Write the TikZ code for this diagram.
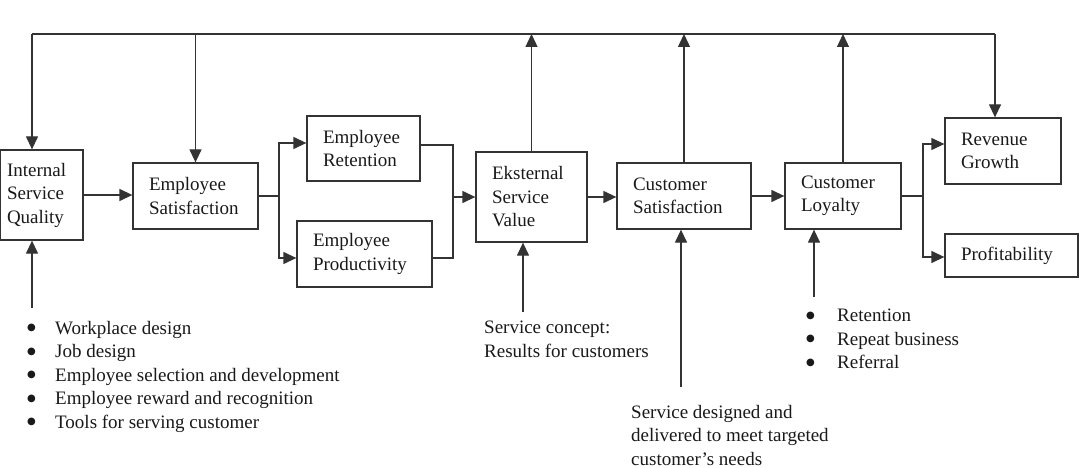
\documentclass[tikz,border=0pt]{standalone}
\usepackage{fontspec}
\setmainfont{Liberation Serif}
\newfontfamily\dotfont{DejaVu Sans}
\usetikzlibrary{arrows.meta}

\newcommand{\bigdot}{\raisebox{3.5pt}{\dotfont\fontsize{10}{10}\selectfont ●}}

\begin{document}
\begin{tikzpicture}[x=1pt,y=-1pt,font=\fontsize{19}{23.5}\selectfont]
        % Styles
        \tikzstyle{block}=[draw=black!80,line width=1.3pt,text=black!90,inner xsep=16pt,inner ysep=0pt,align=left]
        \tikzstyle{link}=[draw=black!80,line width=1.3pt]
        \tikzstyle{arrow}=[link,-{Triangle[length=13pt,width=12pt]}]
        \tikzstyle{information text}=[text=black!90,inner sep=0pt,align=left,anchor=north west]
        \useasboundingbox (0,0) rectangle (1080,468);
        %The graphic
        %boxes
        \node[block,inner xsep=7pt,text width=69pt,minimum height=90pt] (isq) at (41.5,195) {Internal\\Service\\Quality};
        \node[block,text width=93pt,minimum height=66pt] (es) at (195.5,196) {Employee\\Satisfaction};
        \node[block,text width=81pt,minimum height=65pt] (er) at (363.5,148.5) {Employee\\Retention};
        \node[block,text width=103pt,minimum height=66pt] (ep) at (364.5,254) {Employee\\Productivity};
        \node[block,text width=79pt,minimum height=90pt] (esv) at (531.5,197) {Eksternal\\Service\\Value};
        \node[block,text width=102pt,minimum height=66pt] (cs) at (684,196) {Customer\\Satisfaction};
        \node[block,text width=84pt,minimum height=66pt] (cl) at (843,196) {Customer\\Loyalty};
        \node[block,text width=84pt,minimum height=66pt] (rg) at (1003,151) {Revenue\\Growth};
        \node[block,text width=101pt,minimum height=43pt] (pr) at (1011.5,255.5) {Profitability};
        %notes
        \node[information text] (isqlist) at (27,321) {%
            \makebox[28pt][l]{\bigdot}Workplace design\\
            \makebox[28pt][l]{\bigdot}Job design\\
            \makebox[28pt][l]{\bigdot}Employee selection and development\\
            \makebox[28pt][l]{\bigdot}Employee reward and recognition\\
            \makebox[28pt][l]{\bigdot}Tools for serving customer};
        \node[information text] (esvnote) at (484,321) {Service concept:\\Results for customers};
        \node[information text] (csnote) at (631,405) {Service designed and\\delivered to meet targeted\\customer's needs};
        \node[information text] (cllist) at (806,309) {%
            \makebox[31pt][l]{\bigdot}Retention\\
            \makebox[31pt][l]{\bigdot}Repeat business\\
            \makebox[31pt][l]{\bigdot}Referral};
        %feedback line
        \coordinate (fbL) at (32,34);
        \coordinate (fbR) at (995,34);
        \draw[link] (fbL) -- (fbR);
        \draw[arrow] (fbL) -- (fbL |- isq.north);
        \draw[arrow] (es.north |- fbL) -- (es.north);
        \draw[arrow] (fbR) -- (fbR |- rg.north);
        \draw[arrow] (esv.north) -- (esv.north |- fbL);
        \draw[arrow] (cs.north) -- (cs.north |- fbL);
        \draw[arrow] (cl.north) -- (cl.north |- fbL);
        %main chain
        \coordinate (splitA) at (279,0);
        \coordinate (mergeA) at (453,0);
        \coordinate (splitB) at (923,0);
        \draw[arrow] (isq.east) -- (isq.east -| es.west);
        \draw[link] (es.east) -- (es.east -| splitA);
        \draw[arrow] (es.east -| splitA) |- ([yshift=5.5pt]er.west);
        \draw[arrow] (es.east -| splitA) |- ([yshift=-4pt]ep.west);
        \draw[link] ([yshift=3.5pt]er.east) -| (mergeA |- esv.west);
        \draw[link] ([yshift=-4pt]ep.east) -| (mergeA |- esv.west);
        \draw[arrow] (mergeA |- esv.west) -- (esv.west);
        \draw[arrow] (esv.east) -- (esv.east -| cs.west);
        \draw[arrow] (cs.east) -- (cl.west);
        \draw[link] (cl.east) -- (cl.east -| splitB);
        \draw[arrow] (cl.east -| splitB) |- ([yshift=7pt]rg.west);
        \draw[arrow] (cl.east -| splitB) |- ([yshift=-1.5pt]pr.west);
        %inputs from below
        \coordinate (inISQ) at (32,308);
        \coordinate (inESV) at (523,312);
        \coordinate (inCS) at (681,387);
        \coordinate (inCL) at (814,297);
        \draw[arrow] (inISQ) -- (inISQ |- isq.south);
        \draw[arrow] (inESV) -- (inESV |- esv.south);
        \draw[arrow] (inCS) -- (inCS |- cs.south);
        \draw[arrow] (inCL) -- (inCL |- cl.south);
\end{tikzpicture}
\end{document}
